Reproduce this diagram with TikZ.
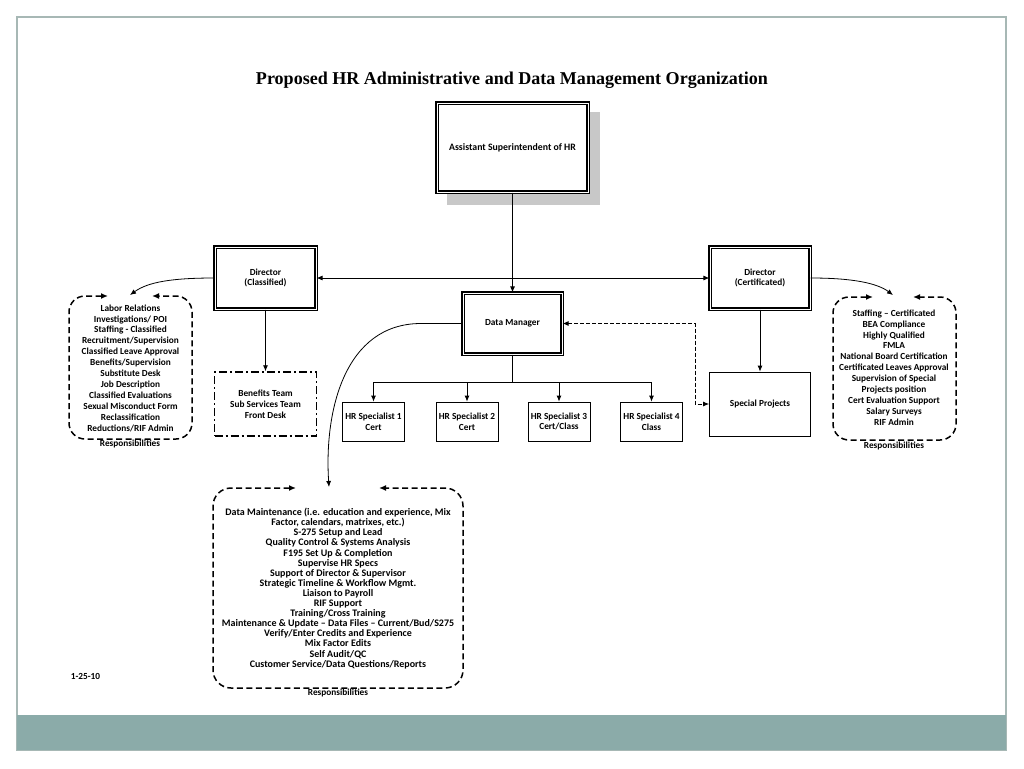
\documentclass[tikz,border=0pt]{standalone}
\usepackage{fontspec}
\usepackage{graphicx}
\setmainfont{Carlito}
\newfontfamily\titlefont{Liberation Serif}
\usetikzlibrary{arrows.meta,calc}
\definecolor{framegray}{HTML}{A7B8B5}
\definecolor{band}{HTML}{8BABA9}
\definecolor{shadowgray}{HTML}{C8C8C8}
\begin{document}
\begin{tikzpicture}[x=1pt,y=-1pt,
  txt/.style={font=\fontsize{9.3}{10.9}\selectfont\bfseries, align=center, inner sep=0pt},
  box/.style={draw, line width=0.8pt, fill=white, inner sep=1pt, align=center, font=\fontsize{9.3}{10.8}\selectfont\bfseries},
  dbl/.style={box, line width=1.2pt, double=white, double distance=1pt},
  arr/.style={-{Latex[length=6pt,width=5pt]}, line width=0.8pt},
  arrb/.style={{Latex[length=6pt,width=5pt]}-{Latex[length=6pt,width=5pt]}, line width=0.8pt},
  resp/.style={line width=1.5pt, dash pattern=on 6pt off 3.5pt, rounded corners=16pt, {Latex[length=7pt,width=6pt]}-{Latex[length=7pt,width=6pt]}},
]
\useasboundingbox (0,0) rectangle (1024,768);
% frame and band
\draw[framegray, line width=1.5pt] (17,17) rectangle (1006,750);
\fill[band] (17,715) rectangle (1006,750);

% title
\node (title) at (512,80) {\resizebox{512pt}{!}{\titlefont\bfseries Proposed HR Administrative and Data Management Organization}};

% top box with shadow
\fill[shadowgray] (447,112) rectangle (600,205);
\node[dbl, minimum width=151pt, minimum height=89pt, font=\fontsize{9.8}{11}\selectfont\bfseries] (asst) at (512.5,147.5) {Assistant Superintendent of HR};

% directors
\node[dbl, minimum width=101pt, minimum height=62pt] (dirL) at (265.5,278) {Director\\(Classified)};
\node[dbl, minimum width=100pt, minimum height=62pt] (dirR) at (760,278) {Director\\(Certificated)};
\node[dbl, minimum width=99pt, minimum height=61pt] (dm) at (512.5,323.5) {Data Manager};

\node[box, line width=1.5pt, dash pattern=on 8pt off 3pt on 2pt off 3pt, minimum width=102pt, minimum height=64pt] (ben) at (265.5,404) {Benefits Team\\Sub Services Team\\Front Desk};
\node[box, minimum width=101pt, minimum height=64pt] (sp) at (760,404) {Special Projects};

\node[box, minimum width=62pt, minimum height=39pt] (s1) at (373.5,421.5) {HR Specialist 1\\Cert};
\node[box, minimum width=62pt, minimum height=39pt] (s2) at (467,421.5) {HR Specialist 2\\Cert};
\node[box, minimum width=62pt, minimum height=39pt] (s3) at (559,421.5) {HR Specialist 3\\Cert/Class};
\node[box, minimum width=62pt, minimum height=39pt] (s4) at (651.5,421.5) {HR Specialist 4\\Class};

% connectors
\draw[arr] (asst.south) -- (dm.north);
\draw[arrb] (dirL.east) -- (dirR.west);
\draw[arr] (dirL.south) -- (ben.north);
\draw[arr] (dirR.south) -- (sp.north);
\coordinate (bus) at (512.5,382);
\draw[line width=0.8pt] (dm.south) -- (bus);
\draw[line width=0.8pt] (s1.north |- bus) -- (s4.north |- bus);
\foreach \s in {s1,s2,s3,s4} \draw[arr] (\s.north |- bus) -- (\s.north);
\coordinate (dk) at (695,404);
\draw[arrb, dash pattern=on 4pt off 2pt] (dm.east) -| (dk) -- (sp.west);

% responsibility boxes
\coordinate (lgap) at (130,295);
\coordinate (rgap) at (893,295);
\coordinate (bgap) at (329,487);
\draw[arr] (dirL.west) .. controls (172,278) and (148,282) .. (lgap);
\draw[arr] (dirR.east) .. controls (852,278) and (877,283) .. (rgap);
\draw[arr] (dm.west) -- ++(-42,0) .. controls (345,324) and (324,410) .. (bgap);

\draw[resp] (108,296) -- (69,296) -- (69,439) -- (192,439) -- (192,296) -- (152,296);
\draw[resp] (873,297) -- (833,297) -- (833,440) -- (956,440) -- (956,297) -- (913,297);
\draw[resp, rounded corners=18pt] (296,488) -- (213,488) -- (213,688) -- (463,688) -- (463,488) -- (379,488);

\node[txt] (ltext) at (130.5,368) {Labor Relations\\Investigations/ POI\\Staffing - Classified\\Recruitment/Supervision\\Classified Leave Approval\\Benefits/Supervision\\Substitute Desk\\Job Description\\Classified Evaluations\\Sexual Misconduct Form\\Reclassification\\Reductions/RIF Admin};
\node[txt] (rtext) at (894,367.5) {Staffing – Certificated\\BEA Compliance\\Highly Qualified\\FMLA\\National Board Certification\\Certificated Leaves Approval\\Supervision of Special\\Projects position\\Cert Evaluation Support\\Salary Surveys\\RIF Admin};
\node[txt, font=\fontsize{10}{10.1}\selectfont\bfseries] (btext) at (338,588.5) {Data Maintenance (i.e. education and experience, Mix\\Factor, calendars, matrixes, etc.)\\S-275 Setup and Lead\\Quality Control \& Systems Analysis\\F195 Set Up \& Completion\\Supervise HR Specs\\Support of Director \& Supervisor\\Strategic Timeline \& Workflow Mgmt.\\Liaison to Payroll\\RIF Support\\Training/Cross Training\\Maintenance \& Update – Data Files – Current/Bud/S275\\Verify/Enter Credits and Experience\\Mix Factor Edits\\Self Audit/QC\\Customer Service/Data Questions/Reports};

\node[txt] (lresp) at (130,444) {Responsibilities};
\node[txt] (rresp) at (894,446) {Responsibilities};
\node[txt] (bresp) at (338,693) {Responsibilities};
\node[txt] (date) at (85.5,676) {1-25-10};
\end{tikzpicture}
\end{document}
